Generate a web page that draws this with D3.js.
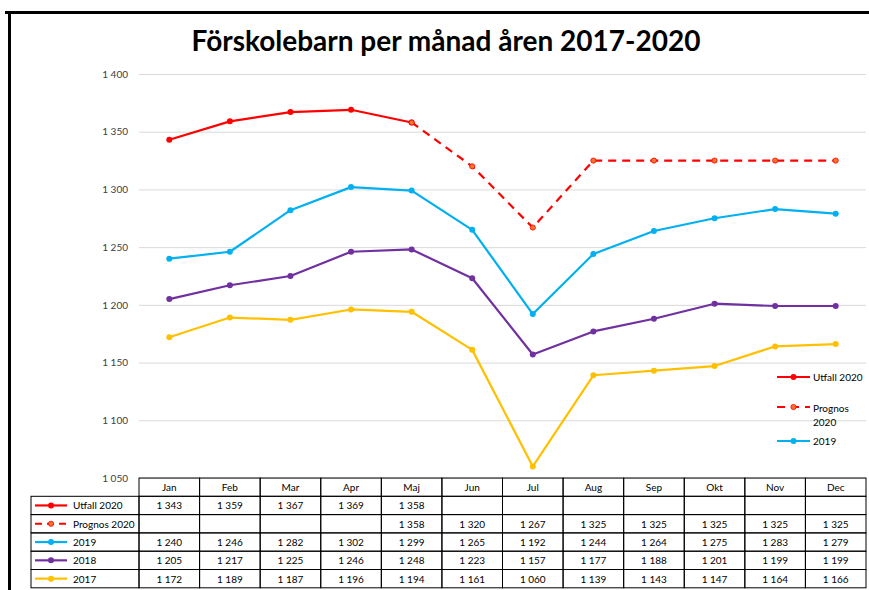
<!DOCTYPE html>
<html>
<head>
<meta charset="utf-8">
<script src="https://cdn.jsdelivr.net/npm/d3@7"></script>
<style>
  body { margin: 0; background: #fff; }
  svg { display: block; font-family: Lato, "Open Sans", sans-serif; }
</style>
</head>
<body>
<div class="chart"></div>
<script>
(function(){

  var months = ['Jan', 'Feb', 'Mar', 'Apr', 'Maj', 'Jun', 'Jul', 'Aug', 'Sep', 'Okt', 'Nov', 'Dec'];
  var utfall2020 = [1343, 1359, 1367, 1369, 1358, null, null, null, null, null, null, null];
  var prognos2020 = [null, null, null, null, 1358, 1320, 1267, 1325, 1325, 1325, 1325, 1325];
  var y2019 = [1240, 1246, 1282, 1302, 1299, 1265, 1192, 1244, 1264, 1275, 1283, 1279];
  var y2018 = [1205, 1217, 1225, 1246, 1248, 1223, 1157, 1177, 1188, 1201, 1199, 1199];
  var y2017 = [1172, 1189, 1187, 1196, 1194, 1161, 1060, 1139, 1143, 1147, 1164, 1166];
  var yTicks = [1050, 1100, 1150, 1200, 1250, 1300, 1350, 1400];

  var series = [
    { name: 'Utfall 2020', label: 'Utfall 2020', values: utfall2020, color: '#ff0000', dashed: false },
    { name: 'Prognos 2020', label: ['Prognos', '2020'], values: prognos2020, color: '#ff0000', dashed: true },
    { name: '2019', label: '2019', values: y2019, color: '#00b0f0', dashed: false },
    { name: '2018', label: '2018', values: y2018, color: '#7030a0', dashed: false },
    { name: '2017', label: '2017', values: y2017, color: '#ffc000', dashed: false }
  ];

  var width = 869, height = 590;
  var plot = { left: 139, right: 866, top: 74, bottom: 478 };
  var rowH = 18.3, tableLeft = 31;

  var fmt = d3.formatLocale({ decimal: ',', thousands: ' ', grouping: [3], currency: ['', ''] }).format(',d');

  var svg = d3.select('.chart')
    .append('svg')
    .attr('width', width)
    .attr('height', height);

  // frame
  svg.append('rect').attr('x', 5).attr('y', 11).attr('width', 864).attr('height', 3).attr('fill', '#000');
  svg.append('rect').attr('x', 8).attr('y', 11).attr('width', 3).attr('height', 579).attr('fill', '#000');

  svg.append('text')
    .attr('x', 446)
    .attr('y', 51)
    .attr('text-anchor', 'middle')
    .attr('font-size', 28)
    .attr('font-weight', 'bold')
    .attr('fill', '#000')
    .text('Förskolebarn per månad åren 2017-2020');

  var x = d3.scaleBand().domain(months).range([plot.left, plot.right]);
  var y = d3.scaleLinear().domain([1050, 1400]).range([plot.bottom, plot.top]);
  var cx = function(m){ return x(m) + x.bandwidth() / 2; };

  // gridlines + y labels
  var yAxis = d3.axisLeft(y).tickValues(yTicks).tickSize(-(plot.right - plot.left)).tickPadding(11).tickFormat(fmt);
  var yg = svg.append('g')
    .attr('transform', 'translate(' + plot.left + ',0)')
    .call(yAxis);
  yg.select('.domain').remove();
  yg.selectAll('.tick line').attr('stroke', '#d9d9d9');
  yg.selectAll('.tick text').attr('font-size', 10).attr('fill', '#404040').attr('font-family', 'Lato, sans-serif');

  // lines
  var line = d3.line()
    .defined(function(d){ return d.v != null; })
    .x(function(d){ return cx(d.m); })
    .y(function(d){ return y(d.v); });

  var marker = function(sel, s){
    sel.attr('r', s.dashed ? 2.6 : 3)
      .attr('fill', s.dashed ? '#f4732c' : s.color)
      .attr('stroke', s.color)
      .attr('stroke-width', s.dashed ? 0.8 : 0);
  };

  var drawOrder = [series[4], series[3], series[2], series[0], series[1]];
  drawOrder.forEach(function(s){
    var pts = months.map(function(m, i){ return { m: m, v: s.values[i] }; });
    svg.append('path')
      .datum(pts)
      .attr('d', line)
      .attr('fill', 'none')
      .attr('stroke', s.color)
      .attr('stroke-width', 2.2)
      .attr('stroke-linejoin', 'round')
      .attr('stroke-dasharray', s.dashed ? '8,6' : null);
    svg.append('g').selectAll('circle')
      .data(pts.filter(function(d){ return d.v != null; }))
      .enter().append('circle')
      .attr('cx', function(d){ return cx(d.m); })
      .attr('cy', function(d){ return y(d.v); })
      .call(marker, s);
  });

  // legend (only first three entries fit)
  var legendY = [377, 407, 441];
  series.slice(0, 3).forEach(function(s, i){
    var g = svg.append('g').attr('transform', 'translate(777,' + legendY[i] + ')');
    g.append('line')
      .attr('x1', 0).attr('x2', 33).attr('y1', 0).attr('y2', 0)
      .attr('stroke', s.color).attr('stroke-width', 2.2)
      .attr('stroke-dasharray', s.dashed ? '8,6' : null);
    g.append('circle').attr('cx', 16.5).attr('cy', 0).call(marker, s);
    var t = g.append('text').attr('x', 36).attr('font-size', 10).attr('fill', '#000');
    if(Array.isArray(s.label)){
      t.append('tspan').attr('x', 36).attr('y', 5).text(s.label[0]);
      t.append('tspan').attr('x', 36).attr('y', 19).text(s.label[1]);
    } else {
      t.attr('y', 4).text(s.label);
    }
  });

  // data table
  var table = svg.append('g').attr('class', 'table');
  var tableTop = plot.bottom;

  // header row
  months.forEach(function(m){
    table.append('rect')
      .attr('x', x(m)).attr('y', tableTop)
      .attr('width', x.bandwidth()).attr('height', rowH)
      .attr('fill', 'none').attr('stroke', '#000').attr('stroke-width', 1);
    table.append('text')
      .attr('x', cx(m)).attr('y', tableTop + 13)
      .attr('text-anchor', 'middle').attr('font-size', 10).attr('fill', '#000')
      .text(m);
  });

  series.forEach(function(s, r){
    var top = tableTop + rowH * (r + 1);
    table.append('rect')
      .attr('x', tableLeft).attr('y', top)
      .attr('width', plot.left - tableLeft).attr('height', rowH)
      .attr('fill', 'none').attr('stroke', '#000').attr('stroke-width', 1);
    table.append('line')
      .attr('x1', tableLeft + 4).attr('x2', tableLeft + 36)
      .attr('y1', top + rowH / 2).attr('y2', top + rowH / 2)
      .attr('stroke', s.color).attr('stroke-width', 2.2)
      .attr('stroke-dasharray', s.dashed ? '7,5' : null);
    table.append('circle')
      .attr('cx', tableLeft + 20).attr('cy', top + rowH / 2)
      .call(marker, s);
    table.append('text')
      .attr('x', tableLeft + 42).attr('y', top + 13)
      .attr('font-size', 10).attr('fill', '#000')
      .text(s.name);

    months.forEach(function(m, i){
      table.append('rect')
        .attr('x', x(m)).attr('y', top)
        .attr('width', x.bandwidth()).attr('height', rowH)
        .attr('fill', 'none').attr('stroke', '#000').attr('stroke-width', 1);
      if(s.values[i] != null){
        table.append('text')
          .attr('x', cx(m)).attr('y', top + 13)
          .attr('text-anchor', 'middle').attr('font-size', 10).attr('fill', '#000')
          .text(fmt(s.values[i]));
      }
    });
  });

}());
</script>
</body>
</html>
